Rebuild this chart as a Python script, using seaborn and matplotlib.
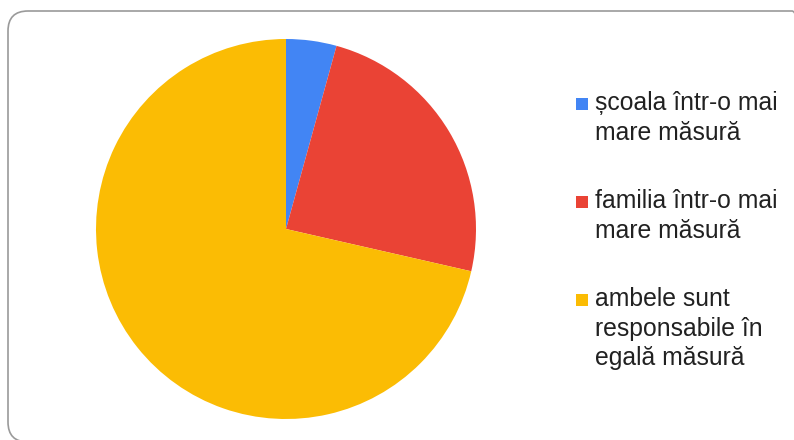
#!/usr/bin/env python3
"""Pie chart: who is responsible (school / family / both)."""

import matplotlib
matplotlib.use("Agg")

import matplotlib.pyplot as plt
import seaborn as sns
from matplotlib.patches import FancyBboxPatch, Rectangle
from matplotlib.transforms import IdentityTransform

# ─────────────────────── data ───────────────────────────────────────────
labels = [
    "școala într-o mai\nmare măsură",
    "familia într-o mai\nmare măsură",
    "ambele sunt\nresponsabile în\negală măsură",
]
values = [3, 17, 50]
colors = ["#4285F4", "#EA4335", "#FBBC04"]

# ─────────────────────── style ──────────────────────────────────────────
sns.set_theme(style="white")
plt.rcParams["font.family"] = ["Liberation Sans", "DejaVu Sans"]

W, H = 794, 440
fig = plt.figure(figsize=(W / 100, H / 100), dpi=100)

# rounded card border (pixel coords)
card = FancyBboxPatch((8, -2), 804, 431,
                      boxstyle="round,pad=0,rounding_size=20",
                      transform=IdentityTransform(),
                      facecolor="none", edgecolor="#9a9a9a", linewidth=1.2)
fig.patches.append(card)

# pie: center (286, 229), radius 190 px
cx, cy, r = 286, 229, 190
ax = fig.add_axes([(cx - r) / W, (H - cy - r) / H, 2 * r / W, 2 * r / H])
ax.pie(values, colors=sns.color_palette(colors), startangle=90,
       counterclock=False, wedgeprops={"linewidth": 0})
ax.set_xlim(-1, 1)
ax.set_ylim(-1, 1)
ax.axis("off")

# legend, drawn by hand so the swatch sits on the first line
for i, (lab, col) in enumerate(zip(labels, colors)):
    y_mid = 104 + i * 98
    fig.patches.append(Rectangle((576, H - y_mid - 6), 12, 12,
                                 transform=IdentityTransform(),
                                 facecolor=col, edgecolor="none"))
    fig.text(595 / W, (H - y_mid + 13) / H, lab, ha="left", va="top",
             fontsize=17.8, color="#212121", linespacing=1.3)

fig.savefig("out.png", dpi=100, facecolor="white")
